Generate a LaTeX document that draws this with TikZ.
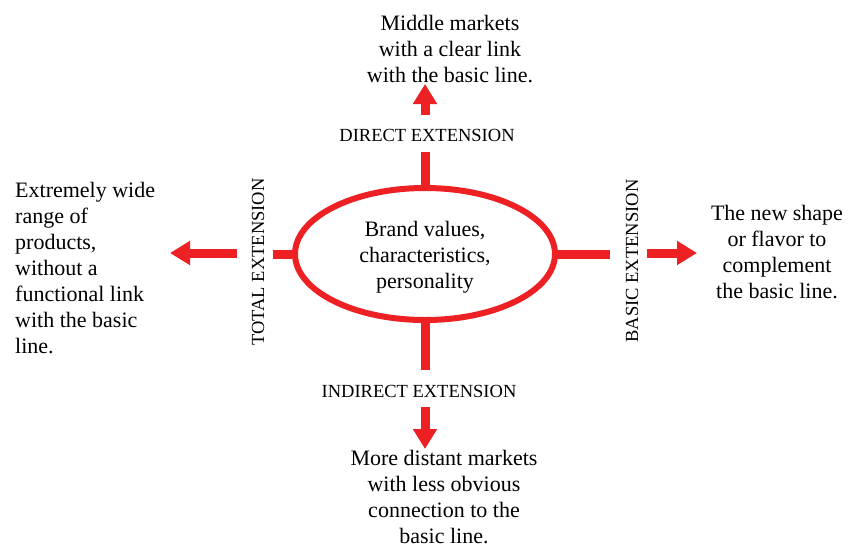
\documentclass[tikz,border=0pt]{standalone}
\usepackage{fontspec}
\setmainfont{Liberation Serif}
\usetikzlibrary{arrows.meta,shapes.geometric}
\definecolor{brandred}{HTML}{ED2024}
\begin{document}
\begin{tikzpicture}[x=1pt,y=-1pt,
  body/.style={font=\fontsize{22}{26}\selectfont, align=center, inner sep=0pt},
  tag/.style={font=\fontsize{18.5}{22}\selectfont, inner sep=0pt},
  stem/.style={draw=brandred, line width=9pt},
  push/.style={draw=brandred, line width=9pt, -{Triangle[width=23pt,length=20pt]}}
]
\useasboundingbox (0,0) rectangle (849,547);

% core ellipse
\node[draw=brandred, line width=6pt, ellipse, minimum width=260pt, minimum height=132pt, inner sep=0pt] (core) at (425,254) {};
\node[body] (values) at (425,257) {Brand values,\\characteristics,\\personality};

% stem ends
\coordinate (stop) at (425,152);
\coordinate (sbot) at (425,370);
\coordinate (sleft) at (273,254);
\coordinate (sright) at (610,254);

% labels
\node[tag] (direct) at (427,135) {DIRECT EXTENSION};
\node[tag] (indirect) at (419,391) {INDIRECT EXTENSION};
\node[tag, rotate=90] (total) at (258,262) {TOTAL EXTENSION};
\node[tag, rotate=90] (basic) at (632,261) {BASIC EXTENSION};

% arrow segments
\coordinate (atop0) at (425,115);
\coordinate (atop1) at (425,84);
\coordinate (abot0) at (425,407);
\coordinate (abot1) at (425,449);
\coordinate (aleft0) at (237,253);
\coordinate (aleft1) at (170,253);
\coordinate (aright0) at (647,253);
\coordinate (aright1) at (697,253);

\draw[stem] (core.north) -- (stop);
\draw[stem] (core.south) -- (sbot);
\draw[stem] (core.west) -- (sleft);
\draw[stem] (core.east) -- (sright);

\draw[push] (atop0) -- (atop1);
\draw[push] (abot0) -- (abot1);
\draw[push] (aleft0) -- (aleft1);
\draw[push] (aright0) -- (aright1);

% outcome texts
\node[body] (upper) at (450,49) {Middle markets\\with a clear link\\with the basic line.};
\node[body] (lower) at (444,497) {More distant markets\\with less obvious\\connection to the\\basic line.};
\node[body, align=left, anchor=west] (wide) at (15,268) {Extremely wide\\range of\\products,\\without a\\functional link\\with the basic\\line.};
\node[body] (flavor) at (777,252) {The new shape\\or flavor to\\complement\\the basic line.};
\end{tikzpicture}
\end{document}
